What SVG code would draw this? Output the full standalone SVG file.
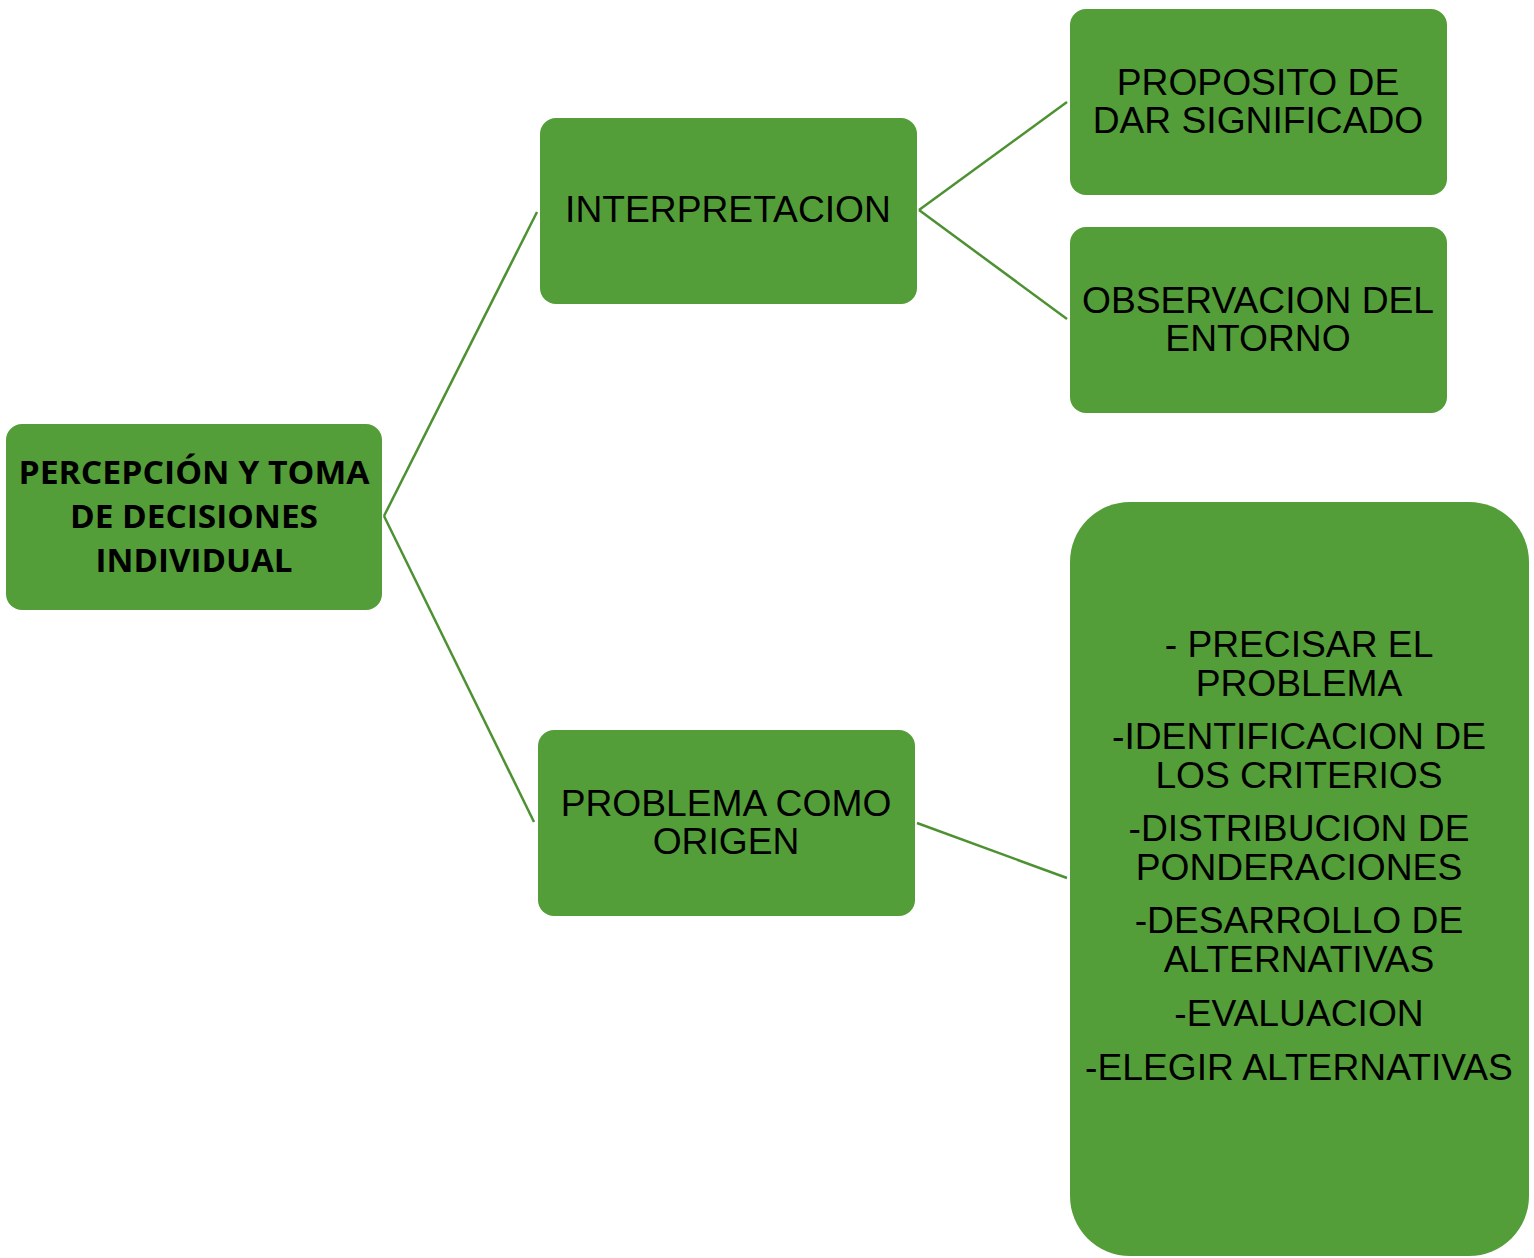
<svg xmlns="http://www.w3.org/2000/svg" width="1534" height="1258" viewBox="0 0 1534 1258">
<style>
.box{fill:#549E39;}
.t{font-family:"Liberation Sans",Arial,sans-serif;font-size:37.2px;fill:#000;text-anchor:middle;}
.b{font-family:"Open Sans","Liberation Sans",sans-serif;font-weight:bold;font-size:32px;fill:#000;text-anchor:middle;}
.c{stroke:#4E9132;stroke-width:2.5;fill:none;}
</style>
<rect width="1534" height="1258" fill="#fff"/>
<g id="connectors">
<line class="c" x1="384" y1="516" x2="537" y2="212"/>
<line class="c" x1="384" y1="516" x2="534" y2="822"/>
<line class="c" x1="919" y1="210" x2="1067" y2="102"/>
<line class="c" x1="919" y1="210" x2="1067" y2="319"/>
<line class="c" x1="917" y1="823" x2="1067" y2="878"/>
</g>
<g id="root">
<rect class="box" x="6" y="424" width="376" height="186" rx="16"/>
<text class="b" x="194" y="484" textLength="351" lengthAdjust="spacingAndGlyphs">PERCEPCIÓN Y TOMA</text>
<text class="b" x="194" y="528" textLength="248" lengthAdjust="spacingAndGlyphs">DE DECISIONES</text>
<text class="b" x="194" y="572" textLength="197" lengthAdjust="spacingAndGlyphs">INDIVIDUAL</text>
</g>
<g id="interpretacion">
<rect class="box" x="540" y="118" width="377" height="186" rx="16"/>
<text class="t" x="728" y="222">INTERPRETACION</text>
</g>
<g id="proposito">
<rect class="box" x="1070" y="9" width="377" height="186" rx="16"/>
<text class="t" x="1258" y="95">PROPOSITO DE</text>
<text class="t" x="1258" y="133">DAR SIGNIFICADO</text>
</g>
<g id="observacion">
<rect class="box" x="1070" y="227" width="377" height="186" rx="16"/>
<text class="t" x="1258" y="313">OBSERVACION DEL</text>
<text class="t" x="1258" y="351">ENTORNO</text>
</g>
<g id="problema">
<rect class="box" x="538" y="730" width="377" height="186" rx="16"/>
<text class="t" x="726" y="816">PROBLEMA COMO</text>
<text class="t" x="726" y="854">ORIGEN</text>
</g>
<g id="pasos">
<rect class="box" x="1070" y="502" width="459" height="754" rx="60"/>
<text class="t" x="1299" y="657">- PRECISAR EL</text>
<text class="t" x="1299" y="696">PROBLEMA</text>
<text class="t" x="1299" y="749">-IDENTIFICACION DE</text>
<text class="t" x="1299" y="788">LOS CRITERIOS</text>
<text class="t" x="1299" y="841">-DISTRIBUCION DE</text>
<text class="t" x="1299" y="880">PONDERACIONES</text>
<text class="t" x="1299" y="933">-DESARROLLO DE</text>
<text class="t" x="1299" y="972">ALTERNATIVAS</text>
<text class="t" x="1299" y="1026">-EVALUACION</text>
<text class="t" x="1299" y="1080">-ELEGIR ALTERNATIVAS</text>
</g>
</svg>
